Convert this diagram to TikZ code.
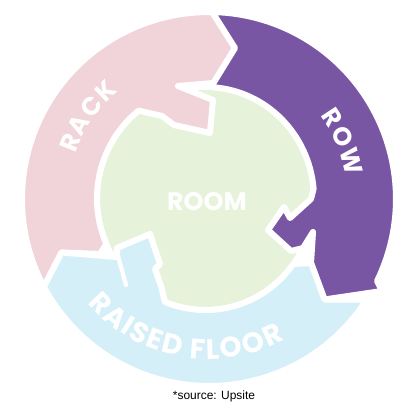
\documentclass[tikz,border=0pt]{standalone}
\usepackage{fontspec}
\usepackage{tikz}
\usetikzlibrary{calc,decorations.text}
\setsansfont{Liberation Sans}
\newfontfamily\ringfont{Poppins}
\newcommand\ringtype{\ringfont\bfseries\fontsize{18}{18}\selectfont}
\newcommand\floortype{\ringfont\bfseries\fontsize{20}{20}\selectfont}

\definecolor{rackpink}{RGB}{240,212,217}
\definecolor{rowpurple}{RGB}{121,86,164}
\definecolor{floorblue}{RGB}{213,239,249}
\definecolor{roomgreen}{RGB}{231,242,219}

\begin{document}
\begin{tikzpicture}[x=0.025cm, y=0.025cm,
  piece/.style={draw=white, line width=4.3pt, line join=round},
  roomtext/.style={text=white, font=\ringtype},
  ringletters/.style 2 args={decorate, decoration={text effects along path, text={#1},
    text align=center, text effects/.cd, text along path,
    characters={text=white, font=#2, inner xsep=0.6pt},
    character widths={font=#2, inner xsep=0.6pt}}}]
\useasboundingbox (0,0) rectangle (419,409);
\fill[white] (0,0) rectangle (419,409);

\begin{scope}[shift={(209,210)}]
\coordinate (gc) at (-3.5,0.5);

% Room in the middle
\fill[roomgreen] (gc) ellipse[x radius=105.5, y radius=108.5];

% Rack arrow
\filldraw[piece, fill=rackpink] (208:187) arc[start angle=208, end angle=89, radius=187]
  -- (26,151) -- (4.5,116) -- (-31,113) -- (4,99) -- (1,66) -- (-35,74) -- (-47,83)
  -- ($(gc)+(128:108.5 and 111.5)$) arc[start angle=128, end angle=204, x radius=108.5, y radius=111.5]
  -- (-109,-55) -- (-147.5,-53.5) -- cycle;

% Row arrow
\filldraw[piece, fill=rowpurple] (89:187) arc[start angle=89, end angle=-26, radius=187]
  -- (173,-92) -- (115.5,-100.5) -- (102,-64) -- (104,-33) -- (94,-49) -- (82,-52) -- (59,-31) -- (75,-8) -- (81,-19) -- (102,0)
  -- ($(gc)+(5:108.5 and 111.5)$) arc[start angle=5, end angle=86, x radius=108.5, y radius=111.5]
  -- (4.5,116) -- (26,151) -- cycle;

% Raised floor arrow
\filldraw[piece, fill=floorblue] (-32.5:187) arc[start angle=-32.5, end angle=-152, radius=187]
  -- (-147.5,-53.5) -- (-92,-58) -- (-92,-49) -- (-59,-35) -- (-49,-65) -- (-54,-70) -- (-48,-87)
  -- ($(gc)+(-112:108.5 and 111.5)$) arc[start angle=-112, end angle=-36, x radius=108.5, y radius=111.5]
  -- (102,-64) -- (115.5,-100.5) -- cycle;
% neck edge of the floor arrow
\draw[white, line width=3pt, line cap=round] (-91,-57) -- (-83,-86);

% Labels
\path[ringletters={RACK}{\ringtype}] (185.75:141) arc[start angle=185.75, end angle=105.75, radius=141];
\path[ringletters={ROW}{\ringtype}] (63:139) arc[start angle=63, end angle=-17, radius=139];
\path[ringletters={RAISED FLOOR}{\floortype}] (195:160) arc[start angle=195, end angle=324, radius=160];
\node[roomtext] (room) at (-2,-3) {ROOM};
\end{scope}

\node[font=\sffamily\fontsize{8.5}{10}\selectfont] (source) at (214,13) {*source: Upsite};
\end{tikzpicture}
\end{document}
